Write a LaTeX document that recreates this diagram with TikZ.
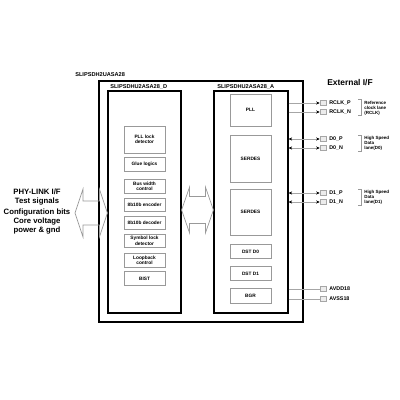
\documentclass[tikz,border=0pt]{standalone}
\usepackage{fontspec}
\setmainfont{Liberation Sans}
\usetikzlibrary{arrows.meta,positioning,calc}

\begin{document}
\begin{tikzpicture}[x=0.025cm, y=-0.025cm,
    chip/.style={draw, line width=1pt, inner sep=0pt},
    block/.style={draw, line width=0.8pt, inner sep=0pt, minimum height=5.55cm},
    subbox/.style={draw=gray!80, line width=0.45pt, inner sep=0pt,
                 minimum width=1.025cm, minimum height=0.34cm,
                 font=\fontsize{3.4}{3.9}\selectfont\bfseries, align=center},
    pinbox/.style={draw=gray!70, fill=gray!15, line width=0.4pt, inner sep=0pt,
                 minimum width=0.15cm, minimum height=0.125cm},
    pinname/.style={right=0.07cm of #1, inner sep=0pt,
                 font=\fontsize{3.8}{4}\selectfont\bfseries},
    lbl/.style={inner sep=0pt, font=\fontsize{4}{4.5}\selectfont\bfseries},
    side/.style={inner sep=0pt, font=\fontsize{5.5}{5}\selectfont\bfseries, align=center},
    lane/.style={inner sep=0pt, anchor=west, align=left,
                 font=\fontsize{3.2}{3.6}\selectfont\bfseries},
    wire/.style={gray!70, line width=0.5pt},
    sigout/.style={wire, -{Stealth[length=0.9mm,width=0.8mm,black]}},
    sigio/.style={wire, {Stealth[length=0.9mm,width=0.8mm,black]}-{Stealth[length=0.9mm,width=0.8mm,black]}},
    brk/.style={gray!80, line width=0.4pt},
    fatarrow/.style={draw=gray!80, line width=0.5pt, line join=miter}
  ]
  \useasboundingbox (0,0) rectangle (400,400);

  % chip and its two blocks
  \node[chip, minimum width=5.1cm, minimum height=6.025cm] (chip) at (201,201.5) {};
  \node[lbl, anchor=south west] (chiplbl) at (75,77) {SLIPSDH2UASA28};
  \node[block, minimum width=1.825cm] (dbox) at (144.5,202) {};
  \node[lbl, anchor=south west] (dlbl) at (110,89.5) {SLIPSDHU2ASA28\_D};
  \node[block, minimum width=1.85cm] (abox) at (251,202) {};
  \node[lbl, anchor=south west] (albl) at (217,89.5) {SLIPSDHU2ASA28\_A};

  % digital part
  \node[subbox, minimum height=0.675cm] (plllock) at (144.5,139.5) {PLL lock\\detector};
  \node[subbox] (glue) at (144.5,164.5) {Glue logics};
  \node[subbox] (buswidth) at (144.5,186.5) {Bus width\\control};
  \node[subbox] (enc) at (144.5,205) {8b10b encoder};
  \node[subbox] (dec) at (144.5,223) {8b10b decoder};
  \node[subbox] (symlock) at (144.5,241) {Symbol lock\\detector};
  \node[subbox] (loopback) at (144.5,260.5) {Loopback\\control};
  \node[subbox] (bist) at (144.5,278.5) {BIST};

  % analog part
  \node[subbox, minimum height=0.8cm] (pll) at (250.5,110) {PLL};
  \node[subbox, minimum height=1.175cm] (serdes0) at (250.5,158.5) {SERDES};
  \node[subbox, minimum height=1.15cm] (serdes1) at (250.5,212) {SERDES};
  \node[subbox] (dst0) at (250.5,251.5) {DST D0};
  \node[subbox] (dst1) at (250.5,273.5) {DST D1};
  \node[subbox, minimum height=0.375cm] (bgr) at (250.5,295.5) {BGR};

  % external pins
  \node[font=\fontsize{6}{7}\selectfont\bfseries, inner sep=0pt] (extif) at (350,83) {External I/F};
  \node[pinbox] (rclkp) at (323,103) {};
  \node[pinname=rclkp] (rclkpname) {RCLK\_P};
  \node[pinbox] (rclkn) at (323,112) {};
  \node[pinname=rclkn] (rclknname) {RCLK\_N};
  \node[pinbox] (d0p) at (323,139) {};
  \node[pinname=d0p] (d0pname) {D0\_P};
  \node[pinbox] (d0n) at (323,148) {};
  \node[pinname=d0n] (d0nname) {D0\_N};
  \node[pinbox] (d1p) at (323,193) {};
  \node[pinname=d1p] (d1pname) {D1\_P};
  \node[pinbox] (d1n) at (323,202) {};
  \node[pinname=d1n] (d1nname) {D1\_N};
  \node[pinbox] (avdd) at (323,289) {};
  \node[pinname=avdd] (avddname) {AVDD18};
  \node[pinbox] (avss) at (323,299) {};
  \node[pinname=avss] (avssname) {AVSS18};

  \draw[sigout] (abox.east |- rclkp) -- (rclkp);
  \draw[sigout] (abox.east |- rclkn) -- (rclkn);
  \draw[sigio] (abox.east |- d0p) -- (d0p);
  \draw[sigio] (abox.east |- d0n) -- (d0n);
  \draw[sigio] (abox.east |- d1p) -- (d1p);
  \draw[sigio] (abox.east |- d1n) -- (d1n);
  \draw[wire] (abox.east |- avdd) -- (avdd);
  \draw[wire] (abox.east |- avss) -- (avss);

  % lane brackets
  \draw[brk] (358,99.5) -| (361,115.5) -- (358,115.5);
  \node[lane] (rclklane) at (364,108) {Reference\\clock lane\\(RCLK)};
  \draw[brk] (358,135.5) -| (361,151.5) -- (358,151.5);
  \node[lane] (d0lane) at (364,143.5) {High Speed\\Data\\lane(D0)};
  \draw[brk] (358,189.5) -| (361,205.5) -- (358,205.5);
  \node[lane] (d1lane) at (364,197.5) {High Speed\\Data\\lane(D1)};

  % PHY-LINK side
  \node[side] (phylink) at (37,192) {PHY-LINK I/F};
  \node[side] (testsig) at (37,202) {Test signals};
  \node[side] (cfgbits) at (37,213) {Configuration bits};
  \node[side] (corevdd) at (37,226) {Core voltage\\power \& gnd};

  \coordinate (l1) at (75,213);
  \coordinate (l2) at (dbox.west |- 0,213);
  \draw[fatarrow] (l1) -- ++(8,-24) -- ++(0,12) -- ($(l2)+(-8,-12)$) -- ++(0,-12)
    -- (l2) -- ++(-8,24) -- ++(0,-12) -- ($(l1)+(8,12)$) -- ++(0,12) -- cycle;
  \coordinate (m1) at (dbox.east |- 0,210);
  \coordinate (m2) at (abox.west |- 0,210);
  \draw[fatarrow] (m1) -- ++(8,-23) -- ++(0,9.5) -- ($(m2)+(-8,-13.5)$) -- ++(0,-9.5)
    -- (m2) -- ++(-8,23) -- ++(0,-9.5) -- ($(m1)+(8,13.5)$) -- ++(0,9.5) -- cycle;
\end{tikzpicture}
\end{document}
